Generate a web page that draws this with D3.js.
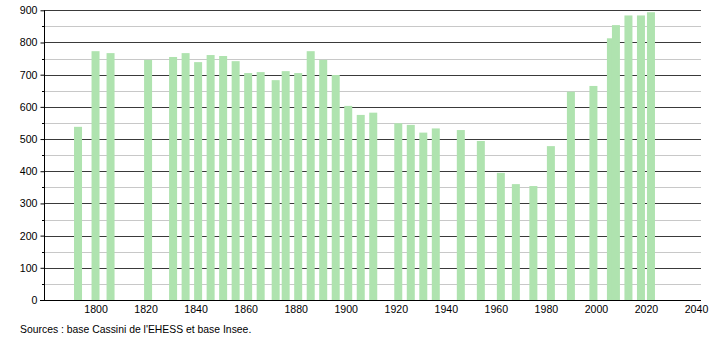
<!DOCTYPE html>
<html><head><meta charset="utf-8">
<script src="https://cdn.jsdelivr.net/npm/d3@7"></script>
<style>body{margin:0;background:#fff}svg{display:block}text{font-family:"Liberation Sans",Arial,sans-serif}</style>
</head><body>
<svg id="c" width="710" height="340"></svg>
<script>
const years = [1793,1800,1806,1821,1831,1836,1841,1846,1851,1856,1861,1866,1872,1876,1881,1886,1891,1896,1901,1906,1911,1921,1926,1931,1936,1946,1954,1962,1968,1975,1982,1990,1999,2006,2008,2013,2018,2022];
const population = [538,773,767,746,755,767,739,761,758,742,705,708,683,711,705,773,746,699,603,575,582,549,544,520,533,528,494,395,360,354,478,647,665,813,854,884,884,894];
const xTicks = [1800,1820,1840,1860,1880,1900,1920,1940,1960,1980,2000,2020,2040];
const yTicks = [0,100,200,300,400,500,600,700,800,900];
const yMinor = [50,150,250,350,450,550,650,750,850];
const source = "Sources : base Cassini de l'EHESS et base Insee.";

const svg = d3.select("#c");
const L = 44, R = 701, T = 10.3, B = 300;
const x = d3.scaleLinear().domain([1779.4, 2042]).range([L, R]);
const y = d3.scaleLinear().domain([0, 900]).range([B, T]);

// minor grid
svg.append("g").selectAll("line").data(yMinor).join("line")
  .attr("x1", L).attr("x2", R).attr("y1", d => Math.round(y(d))+0.5).attr("y2", d => Math.round(y(d))+0.5)
  .attr("stroke", "#c8c8c8").attr("stroke-width", 1);
// major grid
svg.append("g").selectAll("line").data(yTicks.filter(d => d > 0)).join("line")
  .attr("x1", L).attr("x2", R).attr("y1", d => Math.round(y(d))+0.5).attr("y2", d => Math.round(y(d))+0.5)
  .attr("stroke", "#3a3a3a").attr("stroke-width", 1);

// bars
const bw = 8;
svg.append("g").selectAll("rect").data(years).join("rect")
  .attr("x", (d) => x(d) - bw/2).attr("width", bw)
  .attr("y", (d, i) => y(population[i])).attr("height", (d, i) => B - y(population[i]))
  .attr("fill", "#afe3af");

// y axis
const ya = svg.append("g").attr("transform", `translate(${L+0.5},0)`)
  .call(d3.axisLeft(y).tickValues(yTicks).tickSize(4).tickPadding(3).tickFormat(d3.format("d")));
ya.select(".domain").attr("stroke", "#000").attr("d", `M0,${T}V${B}`);
ya.selectAll("line").attr("stroke", "#000");
ya.selectAll("text").attr("font-size", 10.6).attr("fill", "#000").attr("font-family", '"Liberation Sans",Arial,sans-serif');
svg.append("g").selectAll("line").data(yMinor).join("line")
  .attr("x1", L-2).attr("x2", L).attr("y1", d => Math.round(y(d))+0.5).attr("y2", d => Math.round(y(d))+0.5)
  .attr("stroke", "#000");

// x axis
const xa = svg.append("g").attr("transform", `translate(0,${B+0.5})`)
  .call(d3.axisBottom(x).tickValues(xTicks).tickSize(0).tickPadding(5).tickFormat(d3.format("d")));
xa.select(".domain").attr("stroke", "#000").attr("d", `M${L-4},0H${R}`);
xa.selectAll("text").attr("font-size", 10.6).attr("fill", "#000").attr("font-family", '"Liberation Sans",Arial,sans-serif');

svg.append("text").attr("x", 20).attr("y", 332.5).attr("font-size", 10.4).attr("fill", "#000").text(source);
</script>
</body></html>
